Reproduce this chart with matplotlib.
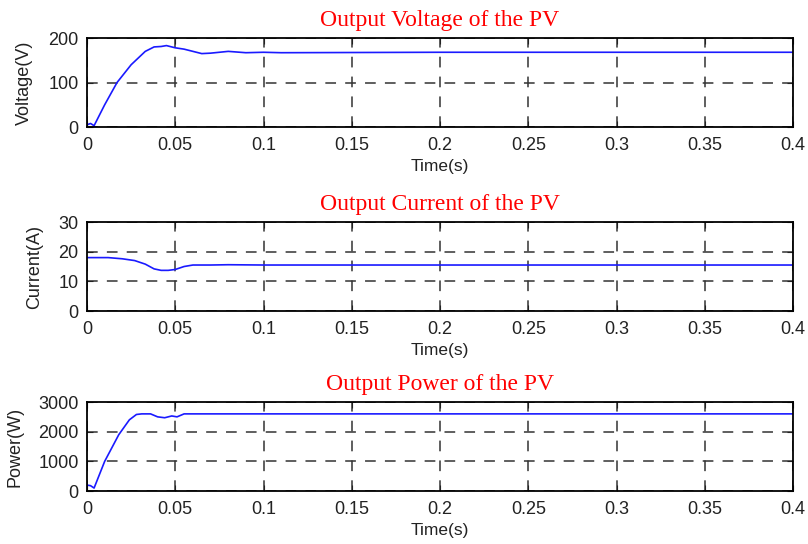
import numpy as np
import matplotlib.pyplot as plt

# time (s) and values
t_v = [0, 0.002, 0.004, 0.01, 0.017, 0.025, 0.033, 0.038, 0.042, 0.045, 0.05, 0.055,
       0.06, 0.065, 0.07, 0.075, 0.08, 0.09, 0.1, 0.11, 0.2, 0.3, 0.4]
voltage = [5, 8, 3, 50, 100, 140, 170, 180, 181, 183, 178, 175,
           170, 165, 166, 168, 170, 167, 168, 167, 168, 168, 168]

t_i = [0, 0.012, 0.02, 0.027, 0.033, 0.038, 0.042, 0.046, 0.05, 0.055, 0.06, 0.07,
       0.08, 0.1, 0.2, 0.3, 0.4]
current = [18, 18, 17.6, 17.0, 15.8, 14.2, 13.7, 13.7, 14.0, 15.0, 15.5, 15.5,
           15.6, 15.5, 15.5, 15.5, 15.5]

t_p = [0, 0.002, 0.004, 0.01, 0.018, 0.024, 0.028, 0.031, 0.036, 0.04, 0.044, 0.048,
       0.051, 0.055, 0.06, 0.1, 0.2, 0.3, 0.4]
power = [200, 180, 100, 1000, 1900, 2400, 2580, 2600, 2600, 2500, 2470, 2530,
         2500, 2600, 2600, 2600, 2600, 2600, 2600]

xticks = [0, 0.05, 0.1, 0.15, 0.2, 0.25, 0.3, 0.35, 0.4]
xticklabels = ['0', '0.05', '0.1', '0.15', '0.2', '0.25', '0.3', '0.35', '0.4']

panels = [
    (t_v, voltage, 'Output Voltage of the PV', 'Voltage(V)', (0, 200), [0, 100, 200], 0.7665),
    (t_i, current, 'Output Current of the PV', 'Current(A)', (0, 30), [0, 10, 20, 30], 0.4283),
    (t_p, power, 'Output Power of the PV', 'Power(W)', (0, 3000), [0, 1000, 2000, 3000], 0.0974),
]

plt.rcParams['font.family'] = ['Liberation Sans', 'DejaVu Sans']

fig = plt.figure(figsize=(8.08, 5.44), dpi=100)
for t, y, title, ylab, ylim, yt, bottom in panels:
    ax = fig.add_axes([0.1077, bottom, 0.8738, 0.1636])
    ax.plot(t, y, color='#1a1aff', lw=1.2)
    ax.set_xlim(0, 0.4)
    ax.set_ylim(*ylim)
    ax.set_xticks(xticks)
    ax.set_xticklabels(xticklabels)
    ax.set_yticks(yt)
    ax.grid(True, color='#333333', ls=(0, (7, 6)), lw=1.1)
    ax.tick_params(direction='in', top=True, right=True, labelsize=13,
                   length=4, colors='#222222')
    ax.tick_params(axis='x', pad=7)
    ax.tick_params(axis='y', pad=6)
    for s in ax.spines.values():
        s.set_linewidth(1.3)
    ax.set_xlabel('Time(s)', fontsize=12.5, labelpad=4, color='#222222')
    ax.set_ylabel(ylab, fontsize=13, labelpad=11, color='#222222')
    ax.set_title(title, color='red', fontsize=17, family='Liberation Serif', pad=9)

plt.savefig('out.png', dpi=100)
